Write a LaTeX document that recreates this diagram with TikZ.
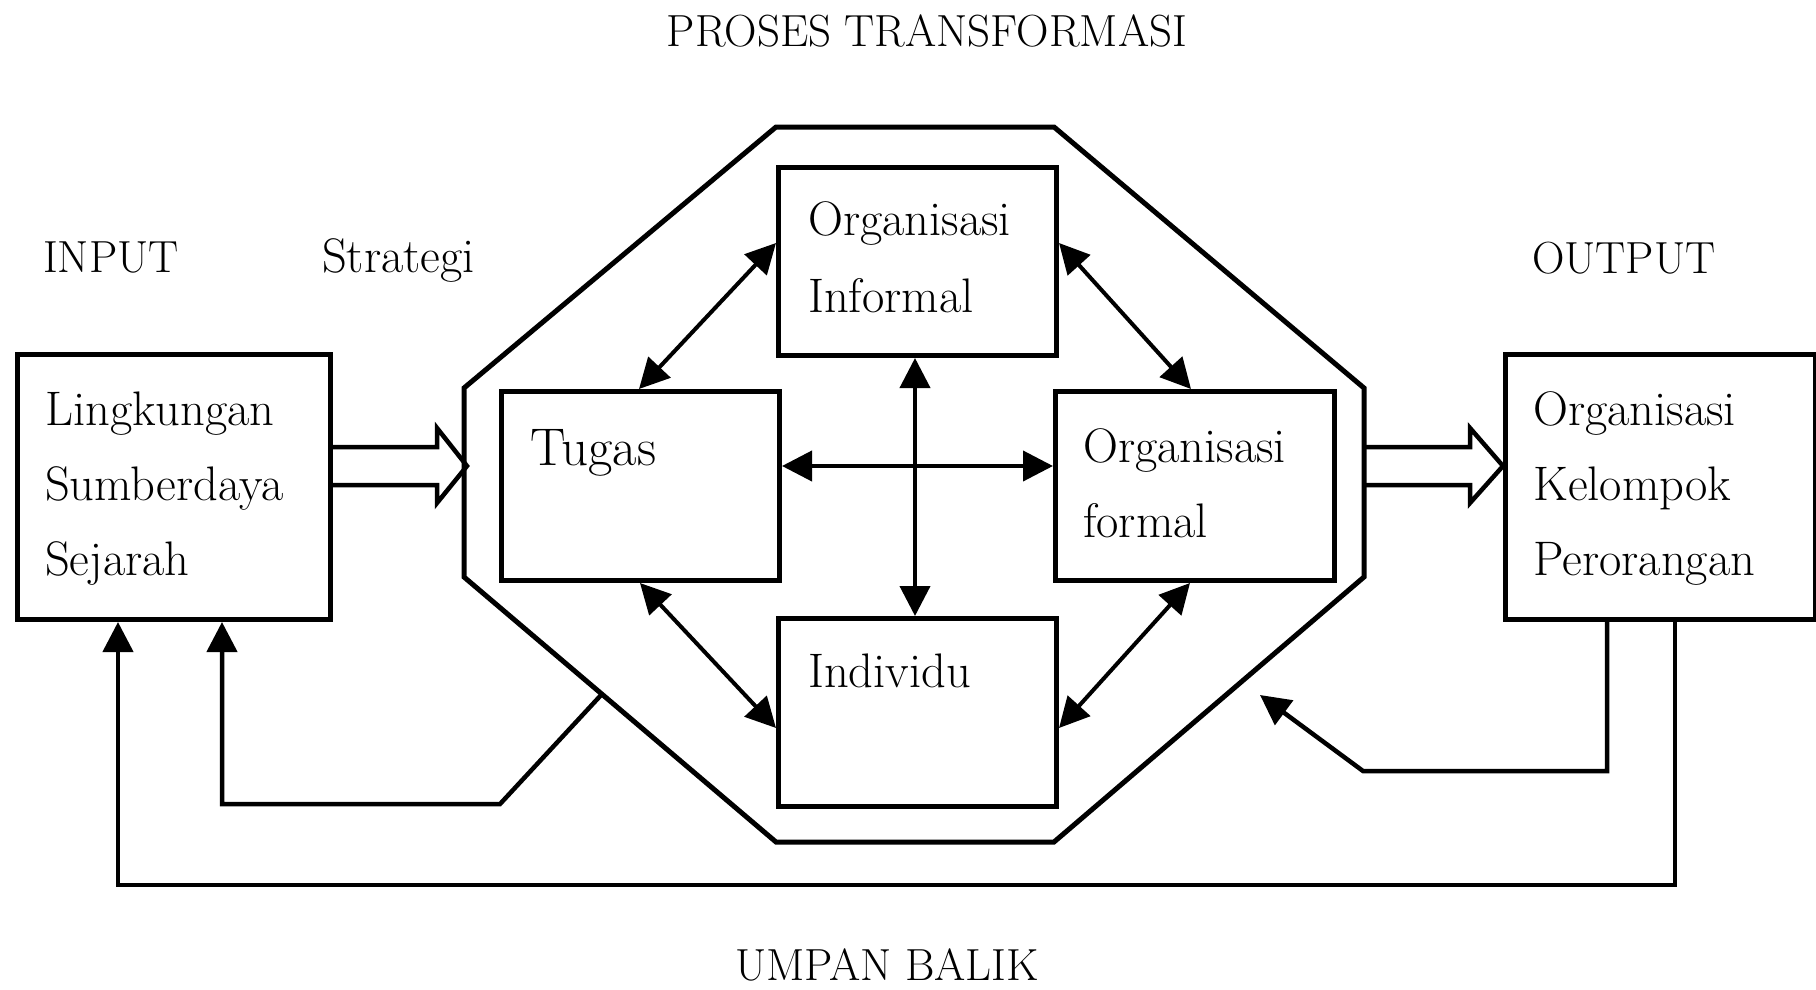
\documentclass[tikz,border=0pt]{standalone}
\usepackage{fontspec}
\usetikzlibrary{arrows.meta,calc}
\begin{document}
\begin{tikzpicture}[x=1pt,y=-1pt,
  box/.style={draw,line width=5pt,inner sep=0pt,anchor=north west},
  body/.style={anchor=base west,inner sep=0pt,font=\fontsize{48.5}{58}\selectfont},
  capl/.style={inner sep=0pt,font=\fontsize{45}{54}\selectfont},
  octo/.style={line width=5pt,line join=miter},
  hollow/.style={line width=4.5pt,line join=miter},
  tip/.style={-{Triangle[length=30pt,width=30pt]}},
  dbl/.style={line width=4pt,{Triangle[length=30pt,width=30pt]}-{Triangle[length=30pt,width=30pt]}},
  fb/.style={line width=4.5pt,line join=miter,tip}]
\useasboundingbox (0,0) rectangle (1816,990);

% labels
\node[capl,anchor=base] (title) at (927,47) {PROSES TRANSFORMASI};
\node[capl,anchor=base west] (inp) at (43,272) {INPUT};
\node[body] (strat) at (322,272) {Strategi};
\node[capl,anchor=base west] (outp) at (1532,273) {OUTPUT};
\node[capl,anchor=base] (umpan) at (887,980) {UMPAN BALIK};

% outer boxes
\node[box,minimum width=313pt,minimum height=265pt] (L) at (15,352) {};
\node[box,minimum width=310pt,minimum height=265pt] (R) at (1503,352) {};
\node[body] (l1) at (45,425) {Lingkungan};
\node[body] (l2) at (45,500) {Sumberdaya};
\node[body] (l3) at (45,575) {Sejarah};
\node[body] (r1) at (1533,425) {Organisasi};
\node[body] (r2) at (1533,500) {Kelompok};
\node[body] (r3) at (1533,575) {Perorangan};

% octagon
\coordinate (o1) at (776,127);
\coordinate (o2) at (1054,127);
\coordinate (o3) at (1364,388);
\coordinate (o4) at (1364,577);
\coordinate (o5) at (1054,842);
\coordinate (o6) at (776,842);
\coordinate (o7) at (464,577);
\coordinate (o8) at (464,388);
\draw[octo] (o1) -- (o2) -- (o3) -- (o4) -- (o5) -- (o6) -- (o7) -- (o8) -- cycle;

% inner boxes
\node[box,minimum width=278pt,minimum height=188pt] (I) at (776,165) {};
\node[box,minimum width=278pt,minimum height=189pt] (T) at (499,389) {};
\node[box,minimum width=279pt,minimum height=189pt] (F) at (1053,389) {};
\node[box,minimum width=278pt,minimum height=188pt] (D) at (776,616) {};
\node[body] (i1) at (808,235) {Organisasi};
\node[body] (i2) at (808,312) {Informal};
\node[body,font=\fontsize{53}{60}\selectfont] (t1) at (530,465) {Tugas};
\node[body] (f1) at (1083,462) {Organisasi};
\node[body] (f2) at (1083,537) {formal};
\node[body] (d1) at (808,687) {Individu};

% double arrows
\draw[dbl] ($(I.north west)+(0,78)$) -- ($(T.north west)+(140,0)$);
\draw[dbl] ($(I.north east)+(0,78)$) -- ($(F.north west)+(138,0)$);
\draw[dbl] ($(T.south west)+(141,0)$) -- ($(D.north west)+(0,112)$);
\draw[dbl] ($(F.south west)+(137,0)$) -- ($(D.north east)+(0,112)$);
\draw[dbl] ($(I.south west)+(139,0)$) -- ($(D.north west)+(139,0)$);
\draw[dbl] ($(T.north east)+(0,77)$) -- ($(F.north west)+(0,77)$);

% hollow arrows
\draw[hollow] ($(L.north east)+(0,95)$) -- ++(104,0) -- ++(0,-19) -- ++(30,38)
  -- ++(-30,37) -- ++(0,-18) -- ++(-104,0);
\draw[hollow] ($(R.north west)+(-139,95)$) -- ++(106,0) -- ++(0,-19) -- ++(33,38)
  -- ++(-33,37) -- ++(0,-18) -- ++(-106,0);

% feedback
\coordinate (fbA) at ($(o7)!0.442!(o6)$);
\draw[fb] (fbA) -- ++(-102,110) -| ($(L.south west)+(207,0)$);
\draw[fb] ($(R.south west)+(172,0)$) -- ++(0,263) -| ($(L.south west)+(103,0)$);
\draw[fb] ($(R.south west)+(104,0)$) -- ++(0,149) -- ++(-244,0) -- ++(-103,-76);
\end{tikzpicture}
\end{document}
